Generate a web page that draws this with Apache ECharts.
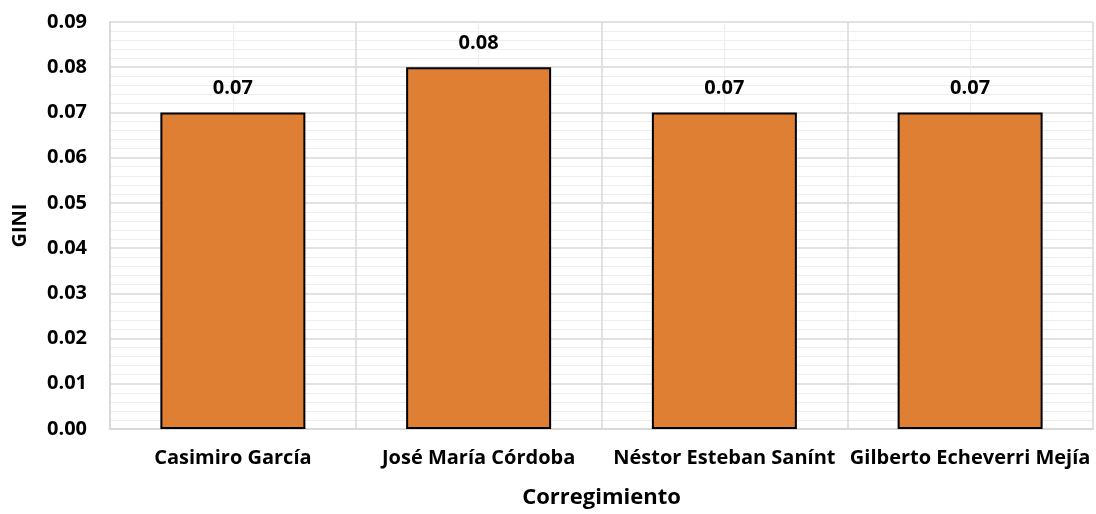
<!DOCTYPE html>
<html><head><meta charset="utf-8">
<script src="https://cdn.jsdelivr.net/npm/echarts@6/dist/echarts.min.js"></script>
<style>html,body{margin:0;padding:0;background:#fff;overflow:hidden}#c{width:1096px;height:514px}</style>
</head><body><div id="c"></div>
<script>
var categories = ["Casimiro García", "José María Córdoba", "Néstor Esteban Sanínt", "Gilberto Echeverri Mejía"];
var giniValues = [0.07, 0.08, 0.07, 0.07];
var yAxisTitle = "GINI";
var xAxisTitle = "Corregimiento";
var FONT = "Open Sans";
var chart = echarts.init(document.getElementById('c'), null, {width: 1096, height: 514});
chart.setOption({
  animation: false,
  textStyle: {fontFamily: FONT},
  grid: {left: 110, right: 3, top: 22, bottom: 82},
  xAxis: [{
    type: 'category', data: categories,
    axisLine: {show: true, lineStyle: {color: '#D9D9D9', width: 2}},
    axisTick: {show: false},
    splitLine: {show: false},
    axisLabel: {color: '#000', fontWeight: 'bold', fontSize: 20, fontFamily: FONT, margin: 19, interval: 0},
    name: xAxisTitle, nameLocation: 'middle', nameGap: 58,
    nameTextStyle: {color: '#000', fontWeight: 'bold', fontSize: 22, fontFamily: FONT}
  }, {
    type: 'value', min: 0, max: 4, interval: 1, show: true, position: 'top',
    axisLine: {show: false}, axisTick: {show: false}, axisLabel: {show: false},
    splitLine: {show: true, lineStyle: {color: '#D9D9D9', width: 1.5}},
    minorTick: {show: false, splitNumber: 2},
    minorSplitLine: {show: true, lineStyle: {color: '#EDEDED', width: 1}}
  }],
  yAxis: {
    type: 'value', min: 0, max: 0.09, interval: 0.01,
    axisLine: {show: true, lineStyle: {color: '#D9D9D9', width: 2}},
    axisTick: {show: false},
    axisLabel: {color: '#000', fontWeight: 'bold', fontSize: 20, fontFamily: FONT, margin: 23,
      formatter: function (v) { return v.toFixed(2); }},
    splitLine: {show: true, lineStyle: {color: '#D9D9D9', width: 1.5}},
    minorTick: {show: false, splitNumber: 5},
    minorSplitLine: {show: true, lineStyle: {color: '#EDEDED', width: 1}},
    name: yAxisTitle, nameLocation: 'middle', nameGap: 80, nameRotate: 90,
    nameTextStyle: {color: '#000', fontWeight: 'bold', fontSize: 20, fontFamily: FONT}
  },
  series: [{
    type: 'bar', data: giniValues, xAxisIndex: 0, barWidth: '59%',
    itemStyle: {color: '#DF7F33', borderColor: '#000', borderWidth: 2},
    label: {show: true, position: 'top', distance: 14, color: '#000', fontWeight: 'bold',
      fontSize: 20, fontFamily: FONT, formatter: function (p) { return p.value.toFixed(2); }}
  }]
});
</script></body></html>
